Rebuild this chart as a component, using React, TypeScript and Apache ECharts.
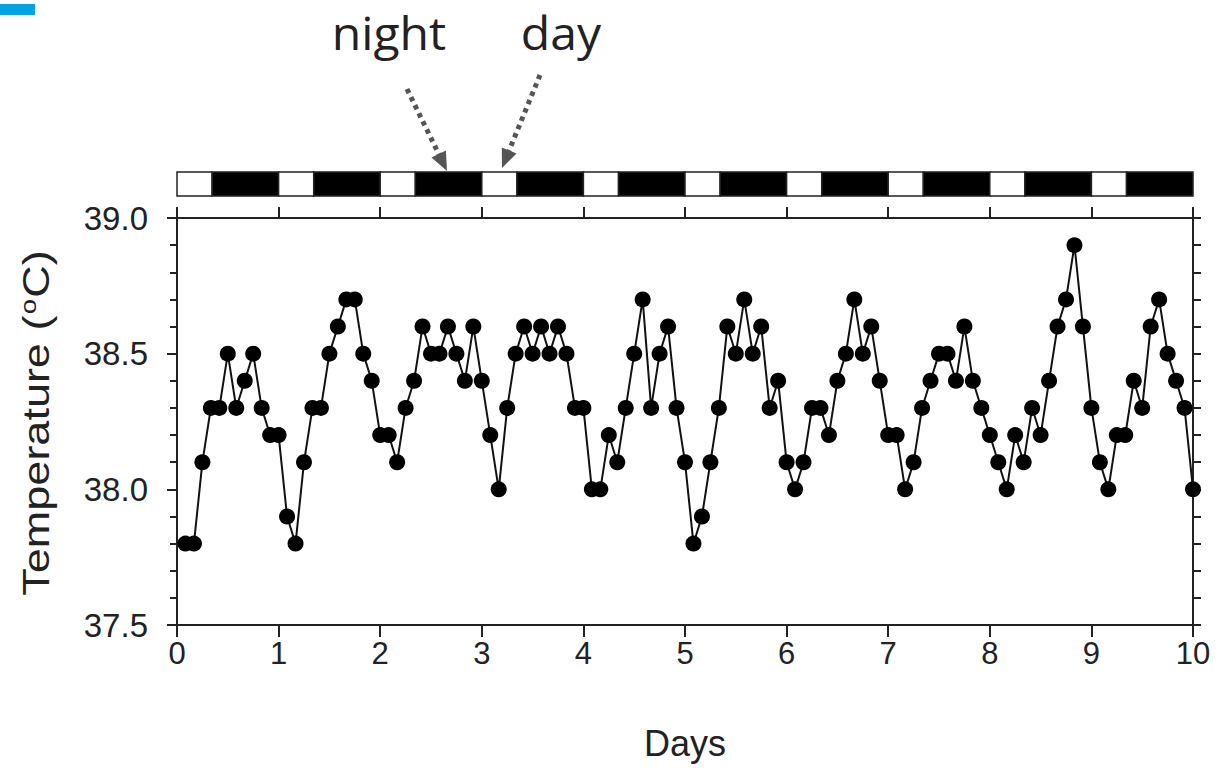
import React, { useEffect, useRef } from "react";
import * as echarts from "echarts";

// Body temperature, sampled every 2 hours over 10 days
const temps: number[] = [
  37.8, 37.8, 38.1, 38.3, 38.3, 38.5, 38.3, 38.4, 38.5, 38.3, 38.2, 38.2,
  37.9, 37.8, 38.1, 38.3, 38.3, 38.5, 38.6, 38.7, 38.7, 38.5, 38.4, 38.2,
  38.2, 38.1, 38.3, 38.4, 38.6, 38.5, 38.5, 38.6, 38.5, 38.4, 38.6, 38.4,
  38.2, 38.0, 38.3, 38.5, 38.6, 38.5, 38.6, 38.5, 38.6, 38.5, 38.3, 38.3,
  38.0, 38.0, 38.2, 38.1, 38.3, 38.5, 38.7, 38.3, 38.5, 38.6, 38.3, 38.1,
  37.8, 37.9, 38.1, 38.3, 38.6, 38.5, 38.7, 38.5, 38.6, 38.3, 38.4, 38.1,
  38.0, 38.1, 38.3, 38.3, 38.2, 38.4, 38.5, 38.7, 38.5, 38.6, 38.4, 38.2,
  38.2, 38.0, 38.1, 38.3, 38.4, 38.5, 38.5, 38.4, 38.6, 38.4, 38.3, 38.2,
  38.1, 38.0, 38.2, 38.1, 38.3, 38.2, 38.4, 38.6, 38.7, 38.9, 38.6, 38.3,
  38.1, 38.0, 38.2, 38.2, 38.4, 38.3, 38.6, 38.7, 38.5, 38.4, 38.3, 38.0,
];
const sampleIntervalHours = 2;

const xTickDays = [0, 1, 2, 3, 4, 5, 6, 7, 8, 9, 10];
const yMin = 37.5;
const yMax = 39.0;

// Light/dark cycle: lights on at the start of each day
const lightOnDays = [0, 1, 2, 3, 4, 5, 6, 7, 8, 9];
const lightHours = 8.3;

const annotationLabels = ["night", "day"];

export default function App() {
  const ref = useRef<HTMLDivElement>(null);

  useEffect(() => {
    if (!ref.current) return;
    const chart = echarts.init(ref.current, undefined, { renderer: "svg" });

    const seriesData = temps.map((t, i) => [
      ((i + 1) * sampleIntervalHours) / 24,
      t,
    ]);

    const cycleData: number[][] = [];
    lightOnDays.forEach((d) => {
      const off = d + lightHours / 24;
      cycleData.push([d, off, 0]);
      cycleData.push([off, d + 1, 1]);
    });

    const axisColor = "#222";
    const labelFont = "'Liberation Sans', Arial, sans-serif";

    const arrow = (x1: number, y1: number, x2: number, y2: number) => {
      const dx = x2 - x1;
      const dy = y2 - y1;
      const len = Math.sqrt(dx * dx + dy * dy);
      const ux = dx / len;
      const uy = dy / len;
      const headLen = 19;
      const halfW = 8;
      const bx = x2 - ux * headLen;
      const by = y2 - uy * headLen;
      const px = -uy * halfW;
      const py = ux * halfW;
      return [
        {
          type: "line",
          shape: { x1, y1, x2: bx + ux * 2, y2: by + uy * 2 },
          style: { stroke: "#555", lineWidth: 5, lineDash: [4.5, 4.5] },
          silent: true,
        },
        {
          type: "polygon",
          shape: {
            points: [
              [x2, y2],
              [bx + px, by + py],
              [bx - px, by - py],
            ],
          },
          style: { fill: "#555" },
          silent: true,
        },
      ];
    };

    const option: any = {
      animation: false,
      backgroundColor: "#fff",
      grid: [
        { left: 177, right: 33, top: 218, bottom: 151 },
        { left: 177, right: 33, top: 172, height: 24 },
      ],
      xAxis: [
        {
          gridIndex: 0,
          type: "value",
          min: 0,
          max: 10,
          interval: 1,
          position: "bottom",
          axisLine: { show: true, onZero: false, lineStyle: { color: axisColor, width: 2 } },
          axisTick: { show: true, inside: false, length: 12, lineStyle: { color: axisColor, width: 2 } },
          axisLabel: {
            show: true,
            fontSize: 31,
            color: axisColor,
            fontFamily: labelFont,
            margin: 13,
            formatter: (v: number) => (xTickDays.includes(v) ? String(v) : ""),
          },
          splitLine: { show: false },
          name: "Days",
          nameLocation: "middle",
          nameGap: 100,
          nameTextStyle: { fontSize: 36, color: axisColor, fontFamily: labelFont },
        },
        {
          gridIndex: 0,
          type: "value",
          min: 0,
          max: 10,
          interval: 1,
          position: "top",
          axisLine: { show: true, onZero: false, lineStyle: { color: axisColor, width: 2 } },
          axisTick: { show: true, inside: false, length: 11, lineStyle: { color: axisColor, width: 2 } },
          axisLabel: { show: false },
          splitLine: { show: false },
        },
        {
          gridIndex: 1,
          type: "value",
          min: 0,
          max: 10,
          show: false,
        },
      ],
      yAxis: [
        {
          gridIndex: 0,
          type: "value",
          min: yMin,
          max: yMax,
          interval: 0.5,
          position: "left",
          axisLine: { show: true, onZero: false, lineStyle: { color: axisColor, width: 2 } },
          axisTick: { show: true, inside: false, length: 10, lineStyle: { color: axisColor, width: 2 } },
          minorTick: { show: true, splitNumber: 5, length: 7, lineStyle: { color: axisColor, width: 2 } },
          axisLabel: {
            fontSize: 33,
            color: axisColor,
            fontFamily: labelFont,
            margin: 29,
            formatter: (v: number) => v.toFixed(1),
          },
          splitLine: { show: false },
          minorSplitLine: { show: false },
        },
        {
          gridIndex: 0,
          type: "value",
          min: yMin,
          max: yMax,
          interval: 0.5,
          position: "right",
          axisLine: { show: true, onZero: false, lineStyle: { color: axisColor, width: 2 } },
          axisTick: { show: true, inside: false, length: 8, lineStyle: { color: axisColor, width: 2 } },
          minorTick: { show: true, splitNumber: 5, length: 8, lineStyle: { color: axisColor, width: 2 } },
          axisLabel: { show: false },
          splitLine: { show: false },
          minorSplitLine: { show: false },
        },
        {
          gridIndex: 1,
          type: "value",
          min: 0,
          max: 1,
          show: false,
        },
      ],
      series: [
        {
          type: "line",
          xAxisIndex: 0,
          yAxisIndex: 0,
          data: seriesData,
          symbol: "circle",
          symbolSize: 16,
          showAllSymbol: true,
          itemStyle: { color: "#000" },
          lineStyle: { color: "#111", width: 2 },
          z: 3,
        },
        {
          type: "custom",
          xAxisIndex: 2,
          yAxisIndex: 2,
          data: cycleData,
          renderItem: (params: any, api: any) => {
            const s = api.coord([api.value(0), 1]);
            const e = api.coord([api.value(1), 0]);
            const dark = api.value(2) === 1;
            return {
              type: "rect",
              shape: { x: s[0], y: s[1], width: e[0] - s[0], height: e[1] - s[1] },
              style: { fill: dark ? "#000" : "#fff", stroke: "#222", lineWidth: 1.5 },
            };
          },
          silent: true,
        },
      ],
      graphic: [
        {
          type: "rect",
          shape: { x: 0, y: 4, width: 35, height: 11 },
          style: { fill: "#00a3e0" },
          silent: true,
        },
        {
          type: "text",
          x: 37,
          y: 423,
          rotation: Math.PI / 2,
          scaleX: 1.25,
          style: {
            text: "{a|Temperature (}{s|o}{a|C)}",
            align: "center",
            verticalAlign: "middle",
            fill: axisColor,
            rich: {
              a: { fontSize: 36, fontFamily: labelFont, fill: axisColor, lineHeight: 40 },
              s: {
                fontSize: 22,
                fontFamily: labelFont,
                fill: axisColor,
                verticalAlign: "top",
                lineHeight: 40,
                padding: [0, 1, 16, 1],
              },
            },
          },
          silent: true,
        },
        {
          type: "text",
          x: 389,
          y: 33,
          scaleX: 1.07,
          style: {
            text: annotationLabels[0],
            align: "center",
            verticalAlign: "middle",
            fontSize: 45,
            fontFamily: "'Open Sans', sans-serif",
            fill: "#222",
          },
          silent: true,
        },
        {
          type: "text",
          x: 561,
          y: 33,
          scaleX: 1.07,
          style: {
            text: annotationLabels[1],
            align: "center",
            verticalAlign: "middle",
            fontSize: 45,
            fontFamily: "'Open Sans', sans-serif",
            fill: "#222",
          },
          silent: true,
        },
        ...arrow(407, 89, 447, 171),
        ...arrow(540, 75, 502, 168),
      ],
    };

    chart.setOption(option);
    return () => chart.dispose();
  }, []);

  return (
    <div
      ref={ref}
      style={{ position: "fixed", left: 0, top: 0, width: 1226, height: 776, background: "#fff" }}
    />
  );
}
